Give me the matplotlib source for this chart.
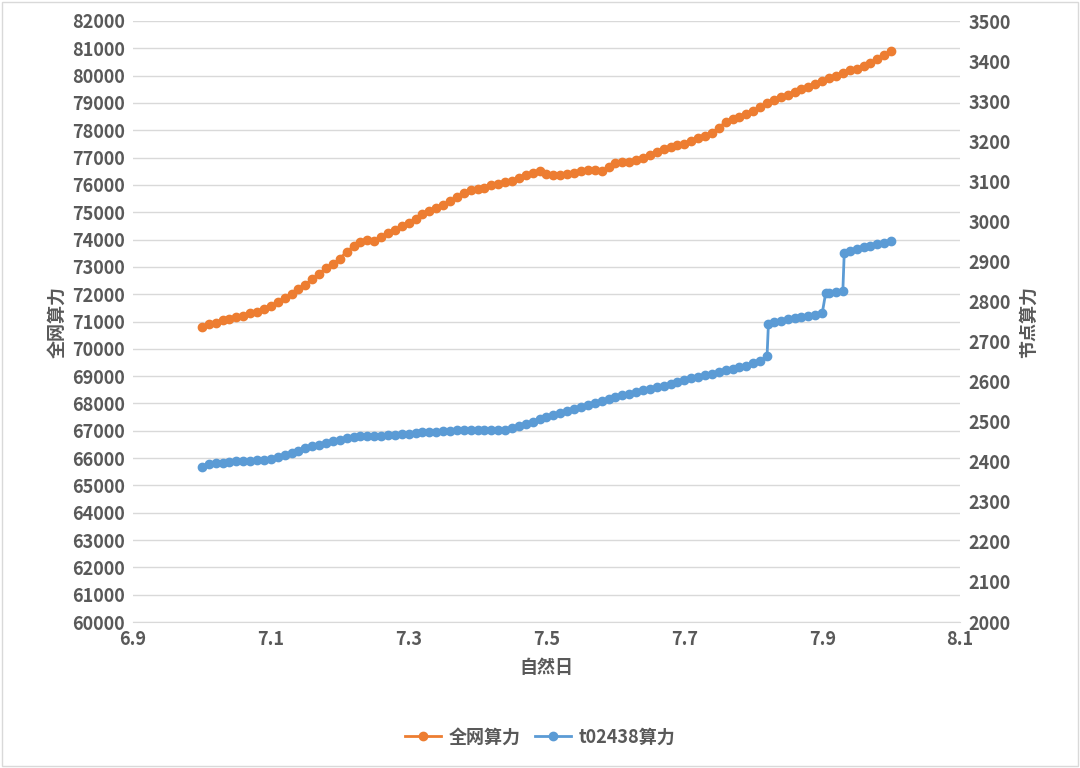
import matplotlib
matplotlib.use("Agg")
import matplotlib.pyplot as plt
import numpy as np

plt.rcParams['font.family'] = ['Noto Sans CJK SC', 'DejaVu Sans']

x_net = [round(7.0 + 0.01 * i, 2) for i in range(101)]
net = [70800,70900,70950,71050,71100,71150,71200,71300,71350,71450,
       71550,71700,71850,72000,72200,72350,72550,72750,72950,73100,
       73300,73550,73750,73900,74000,73950,74100,74250,74350,74500,
       74600,74750,74950,75050,75150,75250,75400,75550,75700,75800,
       75850,75900,76000,76050,76100,76150,76250,76350,76450,76500,
       76400,76350,76350,76400,76450,76500,76550,76550,76500,76650,
       76800,76850,76850,76900,77000,77100,77200,77300,77400,77450,
       77500,77600,77700,77800,77900,78100,78300,78400,78500,78600,
       78700,78850,79000,79100,79200,79300,79400,79500,79600,79700,
       79800,79900,80000,80100,80200,80250,80350,80450,80600,80750,80900]

x_node = [7.00,7.01,7.02,7.03,7.04,7.05,7.06,7.07,7.08,7.09,
          7.10,7.11,7.12,7.13,7.14,7.15,7.16,7.17,7.18,7.19,
          7.20,7.21,7.22,7.23,7.24,7.25,7.26,7.27,7.28,7.29,
          7.30,7.31,7.32,7.33,7.34,7.35,7.36,7.37,7.38,7.39,
          7.40,7.41,7.42,7.43,7.44,7.45,7.46,7.47,7.48,7.49,
          7.50,7.51,7.52,7.53,7.54,7.55,7.56,7.57,7.58,7.59,
          7.60,7.61,7.62,7.63,7.64,7.65,7.66,7.67,7.68,7.69,
          7.70,7.71,7.72,7.73,7.74,7.75,7.76,7.77,7.78,7.79,
          7.80,7.81,7.82,7.822,7.83,7.84,7.85,7.86,7.87,7.88,7.89,
          7.90,7.905,7.91,7.92,7.93,7.932,7.94,7.95,7.96,7.97,7.98,7.99,8.00]
node = [2388,2395,2396,2397,2400,2401,2402,2403,2404,2405,
        2406,2412,2418,2423,2428,2434,2440,2442,2447,2452,
        2455,2460,2462,2463,2464,2464,2465,2466,2467,2469,
        2470,2472,2473,2474,2475,2476,2477,2478,2479,2480,
        2480,2480,2480,2480,2480,2483,2488,2494,2500,2506,
        2512,2517,2522,2527,2532,2537,2542,2547,2552,2557,
        2562,2566,2570,2574,2578,2582,2586,2590,2594,2599,
        2604,2608,2612,2616,2620,2624,2628,2632,2636,2640,
        2647,2652,2663,2743,2748,2751,2755,2758,2761,2764,2767,
        2770,2820,2822,2824,2826,2920,2926,2930,2935,2939,2943,2947,2951]

orange = '#ED7D31'
blue = '#5B9BD5'
tc = '#595959'

fig = plt.figure(figsize=(10.8, 7.68), dpi=100)
ax = fig.add_axes([133/1080, 1-622/768, (960-133)/1080, (622-21)/768])
ax2 = ax.twinx()

ax.plot(x_net, net, color=orange, lw=2, marker='o', ms=6, label='全网算力', zorder=3)
ax2.plot(x_node, node, color=blue, lw=2, marker='o', ms=6, label='t02438算力', zorder=3)

ax.set_xlim(6.9, 8.1)
ax.set_xticks(np.arange(6.9, 8.11, 0.2))
ax.set_xticklabels([f'{v:.1f}' for v in np.arange(6.9, 8.11, 0.2)])
ax.set_ylim(60000, 82000)
ax.set_yticks(range(60000, 82001, 1000))
ax2.set_ylim(2000, 3500)
ax2.set_yticks(range(2000, 3501, 100))

ax.grid(axis='y', color='#D9D9D9', lw=1)
ax.set_axisbelow(True)
for a in (ax, ax2):
    for s in a.spines.values():
        s.set_visible(False)
    a.tick_params(length=0, labelsize=13, colors=tc, pad=6)
    for lab in a.get_xticklabels() + a.get_yticklabels():
        lab.set_fontweight('bold')
ax.spines['bottom'].set_visible(True)
ax.spines['bottom'].set_color('#D9D9D9')

ax.set_xlabel('自然日', fontsize=13, color=tc, fontweight='bold', labelpad=6)
ax.set_ylabel('全网算力', fontsize=13, color=tc, fontweight='bold', labelpad=4)
ax2.set_ylabel('节点算力', fontsize=13, color=tc, fontweight='bold', labelpad=6)

h1, l1 = ax.get_legend_handles_labels()
h2, l2 = ax2.get_legend_handles_labels()
leg = fig.legend(h1 + h2, l1 + l2, loc='center', bbox_to_anchor=(0.5, 1-737/768),
                 ncol=2, frameon=False, fontsize=13, handlelength=2, columnspacing=0.8,
                 handletextpad=0.4)
for t in leg.get_texts():
    t.set_color(tc); t.set_fontweight('bold')

fig.patches.append(plt.Rectangle((0.002, 0.002), 0.996, 0.996, transform=fig.transFigure,
                                 fill=False, edgecolor='#D9D9D9', lw=1))
fig.savefig('out.png', dpi=100)
